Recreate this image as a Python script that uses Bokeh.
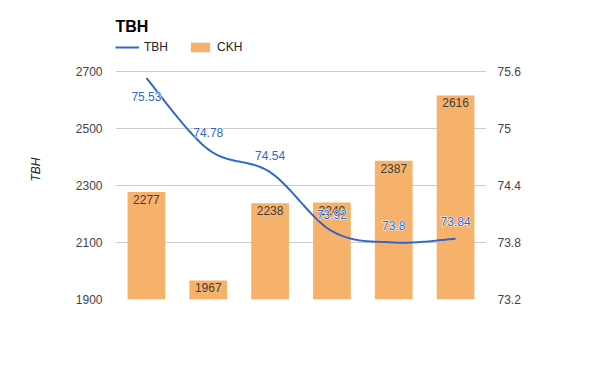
from bokeh.plotting import figure
from bokeh.models import (Range1d, LinearAxis, FixedTicker, CustomJSTickFormatter,
                          Legend, LegendItem)
from bokeh.core.properties import value
from bokeh.embed import file_html
from bokeh.resources import INLINE
import numpy as np

# ---- data ----
categories = ["1", "2", "3", "4", "5", "6"]
ckh_values = [2277, 1967, 2238, 2240, 2387, 2616]
tbh_values = [75.53, 74.78, 74.54, 73.92, 73.8, 73.84]
left_ticks = [1900, 2100, 2300, 2500, 2700]
right_ticks = [73.2, 73.8, 74.4, 75.0, 75.6]
title_text = "TBH"
line_name = "TBH"
bar_name = "CKH"
axis_title = "TBH"

FONT = "Liberation Sans"
LINE_COLOR = "#3366cc"
BAR_COLOR = "#f6b26b"

# layout (pixels)
FRAME_TOP = 39          # top of drawing area
GRID_TOP = 71           # where the top tick (gridline) sits
FRAME_BOTTOM = 299
HEAD = GRID_TOP - FRAME_TOP
grid_h = FRAME_BOTTOM - GRID_TOP

n = len(categories)
xs = [i + 0.5 for i in range(n)]

l0, l1 = left_ticks[0], left_ticks[-1]
r0, r1 = right_ticks[0], right_ticks[-1]
left_end = l1 + HEAD * (l1 - l0) / grid_h
right_end = r1 + HEAD * (r1 - r0) / grid_h

p = figure(width=584, height=355, output_backend="svg", toolbar_location=None,
           x_range=Range1d(0, n), y_range=Range1d(l0, left_end),
           min_border_left=115, min_border_right=98, min_border_top=FRAME_TOP,
           min_border_bottom=355 - FRAME_BOTTOM)
p.extra_y_ranges = {"right": Range1d(r0, right_end)}
p.outline_line_color = None
p.background_fill_color = "white"
p.border_fill_color = "white"

p.xaxis.visible = False
p.xgrid.visible = False
p.ygrid.grid_line_color = "#cccccc"
p.ygrid.ticker = FixedTicker(ticks=left_ticks)

ax = p.yaxis[0]
ax.ticker = FixedTicker(ticks=left_ticks)
ax.axis_line_color = None
ax.major_tick_line_color = None
ax.minor_tick_line_color = None
ax.major_tick_in = 0
ax.major_tick_out = 0
ax.major_label_standoff = 13
ax.major_label_text_font = FONT
ax.major_label_text_font_size = "12px"
ax.major_label_text_color = "#444444"
ax.axis_label = axis_title
ax.axis_label_text_font = FONT
ax.axis_label_text_font_size = "12px"
ax.axis_label_text_font_style = "italic"
ax.axis_label_text_color = "#222222"
ax.axis_label_standoff = 30

rax = LinearAxis(y_range_name="right", ticker=FixedTicker(ticks=right_ticks),
                 formatter=CustomJSTickFormatter(code="return String(Math.round(tick*10)/10)"))
rax.axis_line_color = None
rax.major_tick_line_color = None
rax.minor_tick_line_color = None
rax.major_tick_in = 0
rax.major_tick_out = 0
rax.major_label_standoff = 11
rax.major_label_text_font = FONT
rax.major_label_text_font_size = "12px"
rax.major_label_text_color = "#444444"
p.add_layout(rax, "right")

# bars
bars = p.vbar(x=xs, top=ckh_values, bottom=l0, width=0.61,
              fill_color=BAR_COLOR, line_color=None)
p.text(x=xs, y=ckh_values, text=[str(v) for v in ckh_values],
       text_align="center", text_baseline="top", y_offset=3,
       text_font=value(FONT), text_font_size="12px", text_color="#404040")

# smoothed line (Catmull-Rom -> cubic Bezier through the data points)
def smooth(xv, yv, steps=30):
    px = np.array(xv, float)
    py = np.array(yv, float)
    m = len(px)
    outx, outy = [], []
    for i in range(m - 1):
        i0 = max(i - 1, 0)
        i3 = min(i + 2, m - 1)
        c1x = px[i] + (px[i + 1] - px[i0]) / 6
        c1y = py[i] + (py[i + 1] - py[i0]) / 6
        c2x = px[i + 1] - (px[i3] - px[i]) / 6
        c2y = py[i + 1] - (py[i3] - py[i]) / 6
        t = np.linspace(0, 1, steps, endpoint=(i == m - 2))
        a = (1 - t) ** 3
        b = 3 * (1 - t) ** 2 * t
        c = 3 * (1 - t) * t ** 2
        d = t ** 3
        outx.extend(a * px[i] + b * c1x + c * c2x + d * px[i + 1])
        outy.extend(a * py[i] + b * c1y + c * c2y + d * py[i + 1])
    return outx, outy

sx, sy = smooth(xs, tbh_values)
line = p.line(sx, sy, line_color=LINE_COLOR, line_width=2, y_range_name="right")

rng = r1 - r0
offsets = [18 if v + rng * 0.1 > r1 else -17 for v in tbh_values]
labels = [str(v) for v in tbh_values]
# white halo, then blue text
p.text(x=xs, y=tbh_values, text=labels, y_range_name="right",
       text_align="center", text_baseline="middle", y_offset=offsets,
       text_font=value(FONT), text_font_size="12px", text_color="white",
       text_outline_color="white")
p.text(x=xs, y=tbh_values, text=labels, y_range_name="right",
       text_align="center", text_baseline="middle", y_offset=offsets,
       text_font=value(FONT), text_font_size="12px", text_color=LINE_COLOR)

legend = Legend(items=[LegendItem(label=line_name, renderers=[line]),
                       LegendItem(label=bar_name, renderers=[bars])],
                location=(0, FRAME_BOTTOM - 54), orientation="horizontal",
                glyph_width=24, glyph_height=12, label_standoff=5, spacing=20,
                padding=0, margin=0, border_line_color=None,
                background_fill_alpha=0, label_text_font=FONT,
                label_text_font_size="12px", label_text_color="#222222",
                label_height=12)
p.add_layout(legend)

p.title.text = title_text
p.title.align = "left"
p.title.text_font = FONT
p.title.text_font_size = "16px"
p.title.text_font_style = "bold"
p.title.text_color = "#000000"

open("out.html", "w").write(file_html(p, INLINE))
